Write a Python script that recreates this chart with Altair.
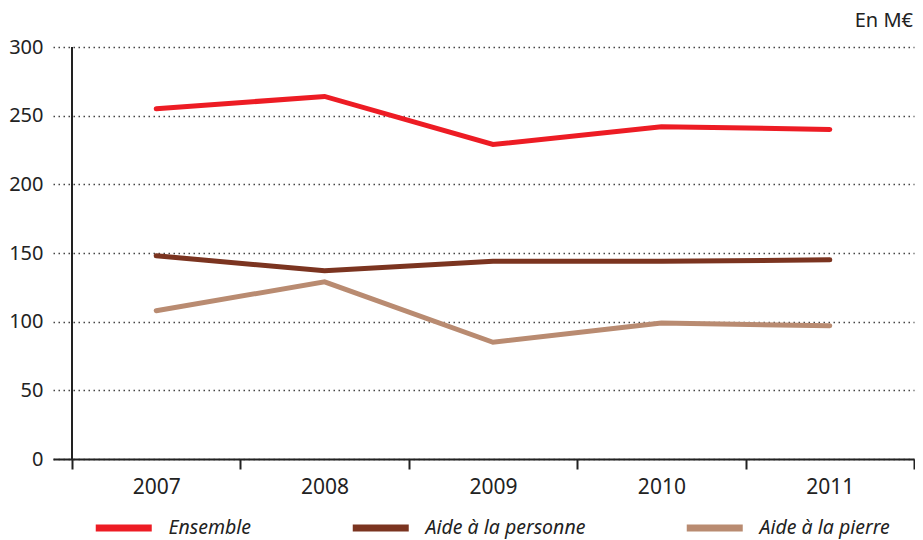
import altair as alt
import pandas as pd

years = ["2007", "2008", "2009", "2010", "2011"]
series = ["Ensemble", "Aide à la personne", "Aide à la pierre"]
ensemble = [255, 264, 229, 242, 240]
personne = [148, 137, 144, 144, 145]
pierre = [108, 129, 85, 99, 97]
colors = ["#ED1C24", "#7B3420", "#B98B71"]

rows = []
for name, vals in zip(series, [ensemble, personne, pierre]):
    for y, v in zip(years, vals):
        rows.append({"year": y, "serie": name, "value": v})
df = pd.DataFrame(rows)

FONT = "Noto Sans"
W, H = 861, 412
p_outer = 19 / (2 * (W - 19) / 5)

xscale = alt.Scale(type="band", domain=years, paddingInner=0, paddingOuter=p_outer, align=1)
yscale = alt.Scale(domain=[0, 300])

lines = alt.Chart(df).mark_line(strokeWidth=5, strokeCap="round", strokeJoin="miter").encode(
    x=alt.X("year:O", scale=xscale, bandPosition=0.5, title=None,
            axis=alt.Axis(tickBand="extent", labelAngle=0, labelAlign="center",
                          labelBaseline="top", labelFontSize=21, labelFont=FONT,
                          labelColor="#222", labelPadding=7, tickSize=10, tickWidth=2,
                          tickColor="#222", domainColor="#222", domainWidth=2, grid=False)),
    y=alt.Y("value:Q", scale=yscale, title=None,
            axis=alt.Axis(values=[0, 50, 100, 150, 200, 250, 300], domain=False, ticks=False,
                          labelFontSize=20, labelFont=FONT, labelColor="#222", labelPadding=10,
                          grid=True, gridColor="#444", gridDash=[1.5, 3.5], gridWidth=1.5)),
    color=alt.Color("serie:N", scale=alt.Scale(domain=series, range=colors), sort=series,
                    legend=alt.Legend(title=None, orient="none", direction="horizontal",
                                      legendX=61, legendY=471,
                                      symbolType="M-5.6,0H5.6", symbolSize=100,
                                      symbolStrokeWidth=7, labelLimit=300,
                                      labelFont=FONT, labelFontSize=19.5, labelFontStyle="italic",
                                      labelColor="#222", labelOffset=35, columnPadding=86)),
)

axis_line = alt.Chart(pd.DataFrame({"year": [years[0]]})).mark_rule(
    color="#222", strokeWidth=2
).encode(
    x=alt.X("year:O", scale=xscale, bandPosition=0),
    y=alt.datum(0),
    y2=alt.datum(300),
)

chart = alt.layer(axis_line, lines).properties(
    width=W, height=H,
    title=alt.TitleParams("En M€", anchor="end", fontSize=20, font=FONT, fontWeight="normal",
                          color="#222", offset=6, dx=-2),
    padding={"left": 0, "right": 0, "top": 3, "bottom": 0},
).configure_view(stroke=None)

chart.save("out.html", embed_options={"renderer": "svg", "actions": False})
